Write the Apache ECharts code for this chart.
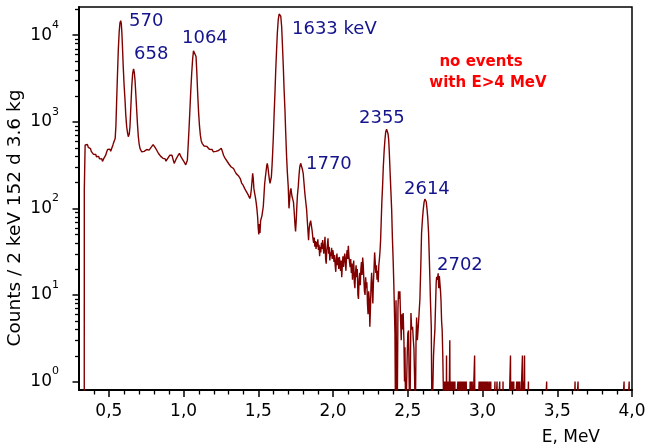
<!DOCTYPE html>
<html>
<head>
<meta charset="utf-8">
<script src="https://cdn.jsdelivr.net/npm/echarts@6/dist/echarts.min.js"></script>
<style>
  html, body { margin: 0; padding: 0; background: #fff; }
  #chart { width: 649px; height: 445px; }
</style>
</head>
<body>
<div id="chart"></div>
<script>
// Gamma spectrum up to 2.74 MeV: [energy in MeV, counts per 2 keV bin]; 0 = empty bin
const spectrum = [
  [0.300,0],[0.3352,0],[0.3355,163],[0.341,540],[0.347,563],[0.352,530],[0.357,545],[0.362,505],[0.367,515],[0.372,480],
  [0.377,490],[0.382,455],[0.387,440],[0.392,452],[0.397,420],[0.402,432],[0.407,405],[0.412,418],[0.417,394],[0.422,405],
  [0.427,385],[0.432,398],[0.437,372],[0.442,385],[0.447,360],[0.452,375],[0.457,348],[0.462,362],[0.467,380],[0.472,372],
  [0.477,405],[0.482,430],[0.487,455],[0.492,480],[0.497,495],[0.502,470],[0.507,482],[0.512,455],[0.517,448],[0.522,470],
  [0.527,540],[0.532,575],[0.537,600],[0.542,640],[0.547,900],[0.552,1770],[0.557,3300],[0.563,6770],[0.569,11000],[0.574,13800],
  [0.579,14660],[0.583,13600],[0.587,10500],[0.591,7200],[0.596,4315],[0.602,2600],[0.608,1770],[0.613,1200],[0.619,875],[0.625,740],
  [0.630,671],[0.636,720],[0.641,875],[0.647,1500],[0.653,2540],[0.659,3600],[0.665,4060],[0.670,3700],[0.675,2990],[0.680,2100],
  [0.686,1365],[0.691,950],[0.697,671],[0.702,560],[0.708,493],[0.713,470],[0.719,450],
  [0.724,462],[0.730,472],[0.736,455],[0.742,465],[0.747,450],[0.753,478],[0.758,465],[0.764,482],[0.769,470],[0.775,495],
  [0.780,490],[0.786,515],[0.791,525],[0.796,545],[0.802,553],[0.807,520],[0.812,495],[0.817,478],[0.822,462],[0.827,440],
  [0.832,430],[0.837,415],[0.842,420],[0.847,398],[0.852,385],[0.857,400],[0.862,378],[0.867,390],[0.872,365],[0.877,372],
  [0.882,350],[0.887,345],[0.892,362],[0.897,385],[0.902,400],[0.907,410],[0.912,425],[0.917,432],[0.922,410],[0.927,380],
  [0.932,355],[0.937,330],[0.942,316],[0.947,340],[0.952,378],[0.957,392],[0.962,405],[0.967,415],[0.972,432],[0.977,420],
  [0.982,395],[0.987,380],[0.992,370],[0.998,361],[1.003,345],[1.008,330],[1.014,318],[1.020,302],[1.025,360],[1.030,514],
  [1.036,820],[1.042,1365],[1.048,2300],[1.054,3600],[1.060,5200],[1.066,6600],[1.069,6855],[1.073,6800],[1.078,6300],[1.083,5650],
  [1.088,3800],[1.094,2130],[1.100,1300],[1.106,900],[1.112,700],[1.118,600],[1.124,564],
  [1.130,540],[1.136,525],[1.142,514],[1.148,530],[1.154,520],[1.160,498],[1.166,505],[1.172,480],[1.178,488],[1.185,470],
  [1.191,478],[1.198,450],[1.204,462],[1.210,448],[1.216,455],[1.222,440],[1.228,458],[1.234,465],[1.240,472],[1.246,480],
  [1.252,493],[1.257,470],[1.262,440],[1.267,410],[1.272,395],[1.277,380],[1.282,370],[1.288,361],[1.293,345],[1.298,335],
  [1.303,325],[1.308,318],[1.313,310],[1.318,300],[1.323,292],[1.328,298],[1.333,290],[1.338,275],[1.343,268],[1.348,262],
  [1.353,250],[1.358,255],[1.363,242],[1.368,236],[1.373,228],[1.378,222],[1.383,210],[1.388,196],[1.393,190],[1.398,185],
  [1.403,182],[1.408,170],[1.413,165],[1.418,158],[1.423,150],[1.428,152],[1.433,142],[1.438,138],[1.443,130],[1.448,140],
  [1.453,165],[1.458,210],[1.462,254],[1.466,220],[1.470,170],[1.475,150],[1.480,135],[1.485,118],[1.490,100],[1.495,80],
  [1.499,60],[1.503,50],[1.507,66],[1.511,52],[1.515,72],[1.519,70],[1.524,82],[1.529,80],[1.533,105],[1.538,145],
  [1.542,190],[1.547,230],[1.552,270],[1.556,310],[1.560,331],[1.564,300],[1.569,250],[1.574,215],[1.578,194],[1.582,185],
  [1.587,230],[1.592,320],[1.596,450],[1.600,650],[1.605,1150],[1.611,2130],[1.616,3800],[1.622,6770],[1.627,10500],[1.633,14960],
  [1.639,17500],[1.645,18200],[1.650,16500],[1.656,12500],[1.661,7800],[1.667,4315],[1.672,2400],[1.678,1365],[1.683,750],[1.689,394],
  [1.694,260],[1.700,178],[1.705,100],[1.710,130],[1.714,160],[1.718,170],[1.722,150],[1.726,135],[1.730,128],[1.735,118],
  [1.740,90],[1.745,65],[1.749,54],[1.753,70],[1.758,110],[1.762,145],[1.767,178],[1.772,240],[1.777,300],[1.783,331],
  [1.788,315],[1.794,285],[1.800,254],[1.805,200],[1.811,150],[1.817,120],[1.823,96],[1.828,70],[1.832,55],[1.836,43],
  [1.840,58],[1.845,67],[1.850,72],[1.855,70],[1.860,55],[1.865,45],
  [1.870,40],[1.874,46],[1.878,36],[1.882,42],[1.886,34],[1.890,41],[1.894,36],[1.898,44],[1.902,33],[1.906,38],
  [1.910,28],[1.914,36],[1.918,31],[1.922,40],[1.926,34],[1.930,43],[1.934,35],[1.938,30],[1.942,38],[1.946,47],
  [1.950,26],[1.954,23],[1.958,33],[1.962,38],[1.966,45],[1.970,30],[1.974,36],[1.978,25],[1.982,31],[1.986,28],
  [1.990,35],[1.994,26],[1.998,33],[2.002,30],[2.006,24],[2.010,29],[2.014,22],[2.018,18.5],[2.022,26],[2.026,30],
  [2.030,22],[2.034,27],[2.038,20],[2.042,27.5],[2.046,23],[2.050,19],[2.054,25],[2.058,16],[2.062,22],[2.066,28],
  [2.070,21],[2.074,26],[2.078,30],[2.082,24],[2.086,19],[2.090,28],[2.094,33],[2.098,26],[2.102,37],[2.106,28],
  [2.110,24],[2.114,21],[2.118,26],[2.122,18],[2.126,23],[2.130,15],[2.134,20],[2.138,25],[2.142,14],[2.146,12],
  [2.150,18],[2.154,22],[2.158,16],[2.162,20],[2.166,10],[2.170,9],[2.174,15],[2.178,18],[2.182,13],[2.186,20],
  [2.190,24],[2.194,17],[2.198,27],[2.202,22],[2.206,15],[2.210,11],[2.214,10],[2.218,16],[2.222,12],[2.226,14],
  [2.230,8],[2.234,6],[2.238,11],[2.242,9],[2.246,4.3],[2.250,7],[2.254,13],[2.258,18],[2.262,12],[2.266,8],
  [2.270,14],[2.274,20],[2.278,31],[2.282,24],[2.286,18],[2.290,22],[2.294,15],[2.298,19],[2.302,14],[2.306,22],
  [2.310,26],[2.314,32],[2.318,43],[2.322,70],[2.326,115],[2.331,178],[2.336,300],[2.342,471],[2.347,620],[2.352,760],
  [2.358,817],[2.363,790],[2.368,720],[2.372,620],[2.376,450],[2.380,302],[2.386,170],[2.392,96],[2.397,45],[2.402,25],
  [2.406,14],[2.409,8.7],[2.414,3.6],[2.418,0],[2.421,8.7],[2.425,1],[2.429,0],[2.434,7],[2.438,11],[2.442,9],
  [2.447,11],[2.452,5],[2.456,3],[2.460,6],[2.465,4],[2.469,6.2],[2.474,3],[2.478,1],[2.481,2.5],[2.486,0],
  [2.492,0],[2.496,2],[2.500,3.6],[2.505,3.9],[2.509,1],[2.514,0],[2.518,2],[2.521,6.2],[2.526,4],[2.532,4.3],
  [2.537,3],[2.541,2.4],[2.546,1],[2.550,0],[2.555,3],[2.559,5.5],[2.564,3],[2.570,4.3],[2.575,6],[2.581,9],
  [2.587,22],[2.592,52],[2.598,75],[2.603,96],[2.609,118],[2.614,128],[2.618,133],[2.623,120],[2.629,96],[2.634,75],
  [2.639,52],[2.643,30],[2.648,15],[2.652,8],[2.657,4.3],[2.662,0],[2.668,0],[2.672,2],[2.677,3],[2.681,3.9],
  [2.686,8],[2.690,14],[2.693,16.2],[2.698,15],[2.703,17.8],[2.707,12],[2.711,16.5],[2.715,16.2],[2.719,11],[2.722,8.7],
  [2.726,5],[2.730,3.9],[2.734,2],[2.737,1]
];

// Single events above 2.74 MeV: bin centre (MeV) and counts; every other bin is empty
const eventEnergy = [
  2.739, 2.741, 2.745, 2.749, 2.751, 2.755, 2.759, 2.765, 2.769, 2.773, 2.781, 2.785, 2.791, 2.795, 2.799,
  2.805, 2.809, 2.815, 2.835, 2.841, 2.847, 2.853, 2.857, 2.865, 2.871, 2.877, 2.885, 2.891,
  2.917, 2.923, 2.931, 2.947, 2.977, 2.985, 2.991, 2.997, 3.003, 3.009, 3.015, 3.021,
  3.029, 3.035, 3.045, 3.055, 3.083, 3.097, 3.115, 3.137, 3.187, 3.195, 3.201, 3.209,
  3.229, 3.235, 3.241, 3.249, 3.267, 3.273, 3.281, 3.307, 3.429, 3.619, 3.639, 3.947, 3.981
];
const eventCounts = [
  1, 1, 1, 1, 1, 1, 2, 1, 1, 1, 3, 1, 1, 1, 1,
  1, 1, 1, 1, 1, 1, 1, 1, 1, 1, 1, 1, 1,
  1, 1, 1, 2, 1, 1, 1, 1, 1, 1, 1, 1,
  1, 1, 1, 1, 1, 1, 1, 1, 2, 1, 1, 1,
  1, 1, 1, 1, 2, 1, 2, 1, 1, 1, 1, 1, 1
];

// Axis ticks
const xTicks = [0.5, 1.0, 1.5, 2.0, 2.5, 3.0, 3.5, 4.0];
const xMinorTicks = [0.4, 0.6, 0.7, 0.8, 0.9, 1.1, 1.2, 1.3, 1.4, 1.6, 1.7, 1.8, 1.9, 2.1, 2.2, 2.3, 2.4,
  2.6, 2.7, 2.8, 2.9, 3.1, 3.2, 3.3, 3.4, 3.6, 3.7, 3.8, 3.9];
const yTicks = [1, 10, 100, 1000, 10000];
const yMinorTicks = [2, 3, 4, 5, 6, 7, 8, 9, 20, 30, 40, 50, 60, 70, 80, 90,
  200, 300, 400, 500, 600, 700, 800, 900, 2000, 3000, 4000, 5000, 6000, 7000, 8000, 9000, 20000];

// Peak annotations (keV)
const peakNames = ['570', '658', '1064', '1633 keV', '1770', '2355', '2614', '2702'];
const noteLines = ['no events', 'with E>4 MeV'];
const yTitle = 'Counts / 2 keV 152 d 3.6 kg';
const xTitle = 'E, MeV';

// ---------------------------------------------------------------
const FONT = 'DejaVu Sans';
const BIN = 0.002;
const EMPTY = 0.3;          // empty bins sit below the log axis and are clipped
const E_MIN = 0.3, E_MAX = 4.0;
const C_MIN = 0.8, C_MAX = 21100;

// histogram of the sparse high-energy part, 2 keV bins from 2.738 to 4.0 MeV
const firstBin = 2.739;
const nBins = Math.round((E_MAX - 0.001 - firstBin) / BIN) + 1;
const highBins = new Array(nBins).fill(0);
eventEnergy.forEach((e, i) => {
  const k = Math.round((e - firstBin) / BIN);
  if (k >= 0 && k < nBins) highBins[k] = eventCounts[i];
});

const lineData = spectrum.map(([e, c]) => [e, c > 0 ? c : EMPTY]);
highBins.forEach((c, k) => {
  lineData.push([+(firstBin + k * BIN).toFixed(4), c > 0 ? c : EMPTY]);
});

const peakLayout = [
  [129, 21], [134, 54], [182, 38], [292, 29], [306, 164], [359, 118], [404, 189], [437, 265]
];

const graphics = peakNames.map((t, i) => ({
  type: 'text', x: peakLayout[i][0], y: peakLayout[i][1], z: 10,
  style: { text: t, fill: '#14148c', font: '18px "' + FONT + '"', align: 'left', verticalAlign: 'middle' }
}));
graphics.push({
  type: 'text', x: 481, y: 62, z: 10,
  style: { text: noteLines[0], fill: '#ff0000', font: 'bold 15px "' + FONT + '"', align: 'center', verticalAlign: 'middle' }
});
graphics.push({
  type: 'text', x: 488, y: 83, z: 10,
  style: { text: noteLines[1], fill: '#ff0000', font: 'bold 15px "' + FONT + '"', align: 'center', verticalAlign: 'middle' }
});
graphics.push({
  type: 'text', x: 15, y: 218, rotation: Math.PI / 2, z: 10,
  style: { text: yTitle, fill: '#000', font: '18.5px "' + FONT + '"', align: 'center', verticalAlign: 'middle' }
});
graphics.push({
  type: 'text', x: 600, y: 438, z: 10,
  style: { text: xTitle, fill: '#000', font: '17px "' + FONT + '"', align: 'right', verticalAlign: 'middle' }
});

// minor tick marks drawn through the axes' scales: dx/dy give the tick direction and length
function minorTickSeries(points, dx, dy) {
  return {
    type: 'custom', silent: true, clip: false, z: 5,
    data: points,
    renderItem: (params, api) => {
      const p = api.coord([api.value(0), api.value(1)]);
      const x = dx === 0 ? Math.round(p[0]) + 0.5 : p[0];
      const y = dy === 0 ? Math.round(p[1]) + 0.5 : p[1];
      return {
        type: 'line',
        shape: { x1: x, y1: y, x2: x + dx, y2: y + dy },
        style: { stroke: '#000', lineWidth: 1.3 }
      };
    }
  };
}

const chart = echarts.init(document.getElementById('chart'), null, { renderer: 'canvas' });
chart.setOption({
  animation: false,
  backgroundColor: '#fff',
  grid: {
    left: 79, right: 17, top: 7, bottom: 55,
    show: true, borderColor: '#000', borderWidth: 1.5, backgroundColor: 'transparent',
    containLabel: false, outerBoundsMode: 'none'
  },
  xAxis: {
    type: 'value', min: E_MIN, max: E_MAX, position: 'bottom',
    axisLine: { show: true, onZero: false, lineStyle: { color: '#000', width: 2 } },
    axisTick: { show: true, inside: false, length: 7, customValues: xTicks, lineStyle: { color: '#000', width: 1.5 } },
    axisLabel: {
      show: true, customValues: xTicks, margin: 13, color: '#000', fontSize: 17, fontFamily: FONT,
      formatter: v => v.toFixed(1).replace('.', ',')
    },
    splitLine: { show: false }, minorTick: { show: false }
  },
  yAxis: {
    type: 'log', logBase: 10, min: C_MIN, max: C_MAX, position: 'left',
    axisLine: { show: true, onZero: false, lineStyle: { color: '#000', width: 2 } },
    axisTick: { show: true, inside: false, length: 6.5, customValues: yTicks, lineStyle: { color: '#000', width: 1.5 } },
    axisLabel: {
      show: true, customValues: yTicks, margin: 20, color: '#000', fontFamily: FONT,
      padding: [0, 0, 3, 0],
      formatter: v => '{b|10}{s|' + Math.round(Math.log10(v)) + '}',
      rich: {
        b: { fontSize: 17, fontFamily: FONT, color: '#000', lineHeight: 20, verticalAlign: 'bottom' },
        s: { fontSize: 11, fontFamily: FONT, color: '#000', lineHeight: 11, padding: [0, 0, 13, 0], verticalAlign: 'bottom' }
      }
    },
    splitLine: { show: false }, minorTick: { show: false }
  },
  series: [
    {
      type: 'line',
      data: lineData, showSymbol: false, symbol: 'none', clip: true,
      lineStyle: { color: '#800000', width: 1.4 },
      emphasis: { disabled: true }, silent: true
    },
    minorTickSeries(xMinorTicks.map(v => [v, C_MIN]), 0, 4.5),
    minorTickSeries(yMinorTicks.map(v => [E_MIN, v]), -4, 0)
  ],
  graphic: graphics
});
</script>
</body>
</html>
